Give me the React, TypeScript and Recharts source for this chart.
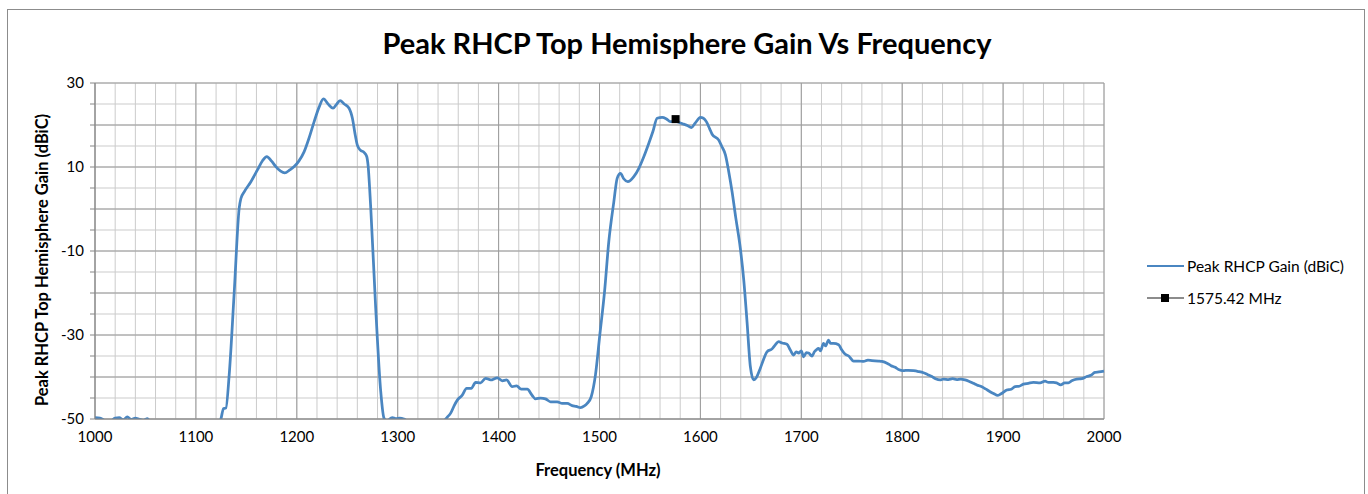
import { CartesianGrid, ComposedChart, Line, Scatter, XAxis, YAxis } from "recharts";

const FONT = "Lato, 'Open Sans', sans-serif";
const BLUE = "#4a86c1";

// frequency (MHz) of each sample of the gain trace
const freqs = [
  1000, 1005, 1010, 1015, 1020, 1024, 1028, 1032, 1036, 1040, 1044, 1048, 1052, 1056, 1062, 1075, 1090, 1105, 1118,
  1124.8, 1127.4, 1129.7, 1133, 1138, 1142.9, 1144.6, 1147.9, 1154.5, 1161, 1166, 1170.3, 1175, 1179.2, 1184, 1188,
  1193, 1197.4, 1202, 1207.2, 1212, 1217.2, 1222, 1226.4, 1231, 1235.9, 1239, 1242.9, 1247, 1251.8, 1255.1, 1258,
  1260, 1263, 1266.6, 1269.3, 1270.6, 1273.3, 1278.2, 1283.2, 1286.4, 1289.8, 1292, 1294.7, 1298, 1302, 1306, 1308,
  1310, 1315, 1325, 1335, 1342, 1345.8, 1349, 1352.5, 1356, 1359.1, 1364, 1368.3, 1372.9, 1377.2, 1382.2, 1387.1,
  1392.1, 1398.7, 1403.6, 1407.9, 1413.5, 1417.8, 1422.4, 1428.4, 1433.3, 1436.6, 1441.6, 1446.5, 1451.5, 1458.1,
  1463, 1468, 1472.9, 1477, 1481.2, 1485, 1487.8, 1491.8, 1496, 1500.3, 1505, 1509.2, 1514.2, 1517.5, 1520.8, 1524,
  1528, 1534, 1539, 1544, 1548.8, 1553, 1557.1, 1562.1, 1566, 1570.3, 1575, 1579, 1583.5, 1587, 1591.1, 1595, 1600,
  1603, 1605.9, 1609, 1611.6, 1618.2, 1621, 1624.8, 1628, 1631.4, 1635, 1639.6, 1643, 1646.2, 1649.5, 1652.8, 1655,
  1659.4, 1662, 1666, 1671, 1674, 1677.5, 1681, 1685.8, 1689, 1692.4, 1695, 1697.3, 1700, 1702.3, 1705, 1707.2,
  1710.6, 1713, 1715, 1717.2, 1719, 1722, 1724, 1727, 1729, 1732, 1737, 1740, 1743.6, 1747, 1751.8, 1757, 1761.7,
  1766, 1770, 1776.5, 1780, 1784.9, 1789, 1793.1, 1797, 1800.7, 1806, 1811.2, 1816, 1821.1, 1825, 1829.4, 1833,
  1837.6, 1841, 1845.8, 1850, 1854.1, 1858, 1862.4, 1866, 1870.6, 1874, 1878.9, 1883, 1887.1, 1891, 1894.4, 1898,
  1903.6, 1908, 1911.9, 1916, 1920.1, 1925, 1930, 1936.6, 1941.6, 1945, 1949.8, 1953, 1957.1, 1961, 1964.7, 1968,
  1973, 1978, 1982.9, 1987, 1991.1, 1995, 2000,
];

// peak RHCP gain (dBiC), same length as freqs
const gains = [
  -49.7, -49.8, -50.4, -50.6, -49.8, -49.7, -50.2, -49.5, -50.1, -49.8, -50.1, -50.3, -49.9, -51.5, -54, -56, -57, -56, -53,
  -50, -47.5, -47.4, -39.5, -19.7, 0.2, 2.5, 4.1, 6.5, 9.3, 11.5, 12.5, 11.4, 10.1, 9.0, 8.6,
  9.3, 10.1, 11.4, 13.6, 16.8, 20.8, 24.2, 26.2, 25.0, 24.0, 24.8, 25.8, 25.0, 24.0, 21.6, 17.5,
  15.2, 14.0, 13.5, 12.5, 10.5, 0.2, -23.6, -43.5, -49.8, -50.6, -50.0, -49.7, -49.9, -49.8, -50.0, -50.3,
  -51.5, -54, -56, -55, -52.5, -50.6, -49.6, -48.6, -46.8, -45.5, -44.3, -42.7, -42.7, -41.3, -41.4, -40.3,
  -40.7, -40.2, -40.9, -40.7, -42.3, -42.1, -42.9, -42.9, -44.4, -45.2, -45.0, -45.2, -45.9, -45.9,
  -46.3, -46.3, -46.8, -47.0, -47.3, -46.9, -46.3, -44.7, -39.5, -30, -19.7, -7.8, 1.7, 7.3, 8.5, 7.2,
  6.5, 7.7, 9.7, 12.5, 15.6, 18.5, 21.6, 21.8, 21.5, 20.8, 20.9, 20.6, 20.2, 19.9, 19.4, 20.5, 21.8,
  21.6, 20.8, 19.2, 17.8, 16.4, 15.0, 12.9, 9.0, 4.1, -2.0, -9.4, -17, -26.8, -37.5, -40.7, -40.3,
  -37.9, -36.2, -34.0, -33.3, -32.4, -31.6, -31.9, -32.2, -33.5, -34.8, -34.0, -34.3, -33.8, -35.2, -34.2, -34.3,
  -35.0, -34.0, -33.5, -33.2, -33.8, -32.0, -32.6, -31.2, -32.0, -32.0, -32.3, -33.5, -34.6, -35.0, -36.2, -36.2, -36.3,
  -36.0, -36.1, -36.2, -36.3, -36.7, -37.3, -37.7, -38.3, -38.5, -38.4, -38.5, -38.7, -39.0, -39.4, -39.9, -40.4,
  -40.7, -40.5, -40.6, -40.4, -40.6, -40.5, -40.7, -41.0, -41.5, -41.9, -42.3, -42.9, -43.5, -44.0, -44.4, -44.0,
  -43.1, -42.9, -42.3, -42.2, -41.7, -41.5, -41.3, -41.4, -41.0, -41.3, -41.3, -41.4, -41.9, -41.4, -41.4, -40.9,
  -40.5, -40.4, -39.9, -39.6, -38.9, -38.8, -38.6,
];

// GPS L1 marker
const markerFreqs = [1575.42];
const markerGains = [21.4];

const xTicks = [1000, 1100, 1200, 1300, 1400, 1500, 1600, 1700, 1800, 1900, 2000];
const xMinorTicks = Array.from({ length: 51 }, (_, i) => 1000 + i * 20);
const yLabelTicks = [30, 10, -10, -30, -50];
const yMidTicks = [30, 20, 10, 0, -10, -20, -30, -40, -50];
const yMinorTicks = Array.from({ length: 17 }, (_, i) => 30 - i * 5);

const trace = freqs.map((f, i) => ({ freq: f, gain: gains[i] }));
const marker = markerFreqs.map((f, i) => ({ freq: f, gain: markerGains[i] }));

const applyScale = (axis: any, v: number) => {
  const s = axis?.scale;
  if (!s) return 0;
  if (typeof s === "function") return s(v);
  if (typeof s.map === "function") return s.map(v);
  return 0;
};

const gridGen = (values: number[], key: "xAxis" | "yAxis") => (props: any) =>
  values.map((v) => applyScale(props[key], v));

const Square = (props: any) => {
  const { cx, cy } = props;
  if (cx == null || cy == null) return null;
  return <rect x={cx - 4} y={cy - 4} width={8} height={8} fill="#000" />;
};

export default function App() {
  return (
    <div style={{ position: "absolute", left: 0, top: 0, width: 1368, height: 494, overflow: "hidden", background: "#fff", fontFamily: FONT }}>
      <div style={{ position: "absolute", left: 7, top: 9, width: 1356, height: 500, border: "1px solid #8c8c8c" }} />
      <div style={{ position: "absolute", left: 0, width: 1374, top: 25, textAlign: "center", fontSize: 29, fontWeight: 700, color: "#000" }}>
        Peak RHCP Top Hemisphere Gain Vs Frequency
      </div>
      <ComposedChart
        width={1368}
        height={494}
        style={{ position: "absolute", left: 0, top: 0 }}
        margin={{ top: 83, right: 264, bottom: 45, left: 55 }}
      >
        <CartesianGrid
          stroke="#cbcbcb"
          verticalCoordinatesGenerator={gridGen(xMinorTicks, "xAxis")}
          horizontalCoordinatesGenerator={gridGen(yMinorTicks, "yAxis")}
        />
        <CartesianGrid
          stroke="#9c9c9c"
          verticalCoordinatesGenerator={gridGen(xTicks, "xAxis")}
          horizontalCoordinatesGenerator={gridGen(yMidTicks, "yAxis")}
        />
        <XAxis
          dataKey="freq"
          type="number"
          domain={[1000, 2000]}
          ticks={xTicks}
          height={30}
          stroke="#868686"
          tickLine={false}
          tick={{ fontSize: 15, fill: "#000", fontFamily: FONT }}
          tickMargin={6}
        />
        <YAxis
          type="number"
          domain={[-50, 30]}
          ticks={yMinorTicks}
          interval={0}
          tickFormatter={(v: number) => (yLabelTicks.includes(v) ? String(v) : "")}
          allowDataOverflow
          width={40}
          stroke="#868686"
          tickSize={5}
          tickMargin={6}
          tick={{ fontSize: 15, fill: "#000", fontFamily: FONT }}
        />
        <Line
          data={trace}
          dataKey="gain"
          type="monotone"
          stroke={BLUE}
          strokeWidth={2.75}
          dot={false}
          activeDot={false}
          isAnimationActive={false}
        />
        <Scatter data={marker} dataKey="gain" shape={<Square />} isAnimationActive={false} />
      </ComposedChart>
      <div
        style={{
          position: "absolute",
          left: 42,
          top: 260,
          transform: "translate(-50%, -50%) rotate(-90deg)",
          whiteSpace: "nowrap",
          fontSize: 16.5,
          fontWeight: 700,
        }}
      >
        Peak RHCP Top Hemisphere Gain (dBiC)
      </div>
      <div style={{ position: "absolute", left: 598, top: 470, transform: "translate(-50%, -50%)", whiteSpace: "nowrap", fontSize: 16.5, fontWeight: 700 }}>
        Frequency (MHz)
      </div>
      <div style={{ position: "absolute", left: 1147, top: 256, fontSize: 15.5, lineHeight: "20px" }}>
        <div style={{ display: "flex", alignItems: "center", height: 20 }}>
          <div style={{ width: 37, height: 2.5, background: BLUE, marginRight: 3 }} />
          <span>Peak RHCP Gain (dBiC)</span>
        </div>
        <div style={{ display: "flex", alignItems: "center", height: 20, marginTop: 12 }}>
          <div style={{ position: "relative", width: 37, height: 2, background: "#8c8c8c", marginRight: 3 }}>
            <div style={{ position: "absolute", left: 14, top: -3, width: 8, height: 8, background: "#000" }} />
          </div>
          <span>1575.42 MHz</span>
        </div>
      </div>
    </div>
  );
}
